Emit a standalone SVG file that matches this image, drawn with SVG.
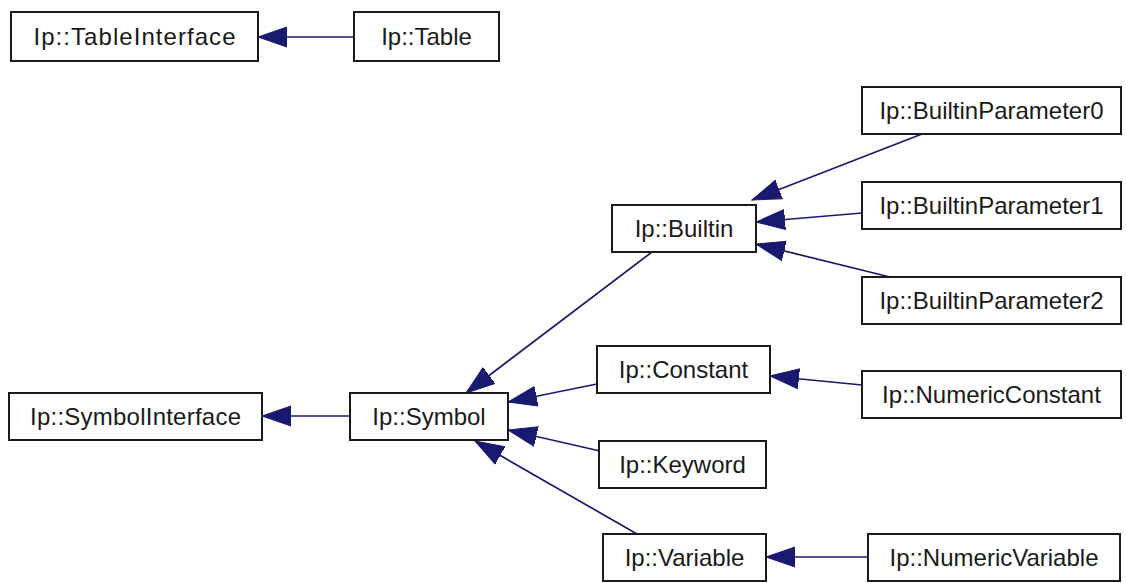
<svg xmlns="http://www.w3.org/2000/svg" width="1126" height="583" viewBox="0 0 1126 583">
<style>
.n rect{fill:#fff;stroke:#1a1a1a;stroke-width:2}
.n text{font-family:"Liberation Sans",Arial,sans-serif;font-size:24px;fill:#1a1a1a;text-anchor:middle}
.e line{stroke:#191970;stroke-width:1.7;marker-end:url(#ah)}
</style>
<defs>
<marker id="ah" markerUnits="userSpaceOnUse" viewBox="0 -11 30 22" refX="29" refY="0" markerWidth="30" markerHeight="22" orient="auto">
<path d="M0,-10 L29,0 L0,10 z" fill="#191970" stroke="#191970" stroke-width="1"/>
</marker>
</defs>
<rect width="1126" height="583" fill="#fff"/>
<g class="e" id="connectors">
<line x1="354" y1="37" x2="258" y2="37"/>
<line x1="350" y1="416" x2="262" y2="416"/>
<line x1="652" y1="252" x2="466" y2="393"/>
<line x1="597" y1="384" x2="508" y2="402"/>
<line x1="600" y1="451" x2="508" y2="430"/>
<line x1="637" y1="534" x2="475" y2="441"/>
<line x1="922" y1="134" x2="752" y2="200"/>
<line x1="862" y1="213" x2="756" y2="222"/>
<line x1="890" y1="277" x2="756" y2="244"/>
<line x1="862" y1="385" x2="770" y2="376"/>
<line x1="868" y1="557" x2="766" y2="557"/>
</g>
<g class="n" id="TableInterface"><rect x="11" y="12" width="247" height="49"/><text x="134.5" y="45" textLength="202" lengthAdjust="spacing">Ip::TableInterface</text></g>
<g class="n" id="Table"><rect x="354" y="12" width="145" height="49"/><text x="426.5" y="45">Ip::Table</text></g>
<g class="n" id="BuiltinParameter0"><rect x="862" y="87" width="259" height="47"/><text x="991.5" y="119">Ip::BuiltinParameter0</text></g>
<g class="n" id="BuiltinParameter1"><rect x="862" y="182" width="259" height="47"/><text x="991.5" y="214">Ip::BuiltinParameter1</text></g>
<g class="n" id="BuiltinParameter2"><rect x="862" y="277" width="259" height="47"/><text x="991.5" y="309">Ip::BuiltinParameter2</text></g>
<g class="n" id="Builtin"><rect x="612" y="205" width="144" height="47"/><text x="684" y="237">Ip::Builtin</text></g>
<g class="n" id="Constant"><rect x="597" y="346" width="173" height="47"/><text x="683.5" y="378">Ip::Constant</text></g>
<g class="n" id="NumericConstant"><rect x="862" y="371" width="259" height="47"/><text x="991.5" y="403">Ip::NumericConstant</text></g>
<g class="n" id="SymbolInterface"><rect x="9" y="393" width="253" height="47"/><text x="135.5" y="425" textLength="211" lengthAdjust="spacing">Ip::SymbolInterface</text></g>
<g class="n" id="Symbol"><rect x="350" y="393" width="158" height="47"/><text x="429" y="425">Ip::Symbol</text></g>
<g class="n" id="Keyword"><rect x="599" y="441" width="167" height="47"/><text x="682.5" y="473">Ip::Keyword</text></g>
<g class="n" id="Variable"><rect x="603" y="534" width="163" height="47"/><text x="684.5" y="566">Ip::Variable</text></g>
<g class="n" id="NumericVariable"><rect x="868" y="534" width="252" height="47"/><text x="994" y="566">Ip::NumericVariable</text></g>
</svg>
